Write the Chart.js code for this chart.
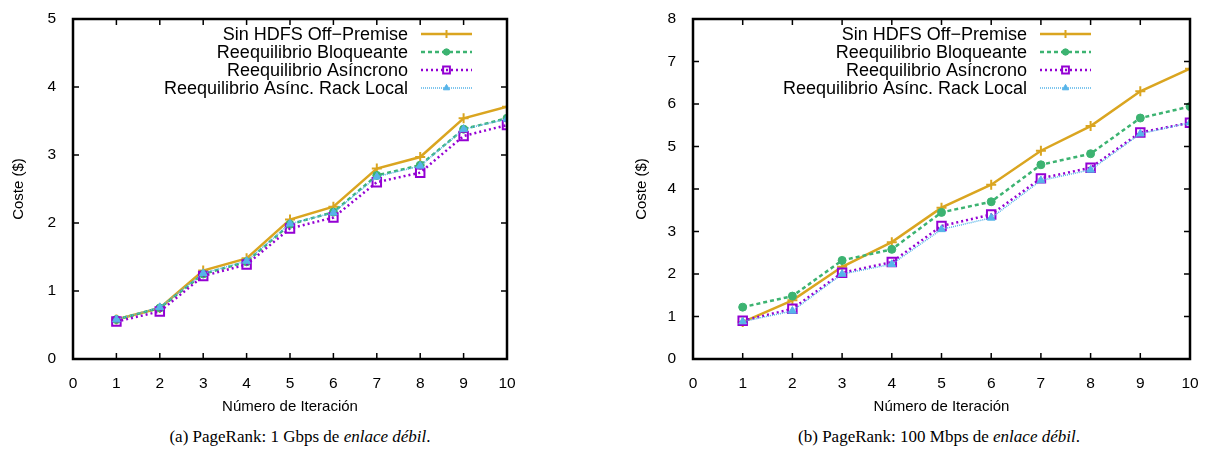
<!DOCTYPE html>
<html>
<head>
<meta charset="utf-8">
<script src="https://cdn.jsdelivr.net/npm/chart.js@4"></script>
<style>
  body { margin: 0; background: #fff; width: 1211px; height: 456px; position: relative; overflow: hidden; }
  .box { position: absolute; top: 0; height: 420px; }
  .cap { position: absolute; top: 427px; font-family: "Liberation Serif", serif; font-size: 17px; color: #000; text-align: center; }
</style>
</head>
<body>
<div class="box" style="left:0;width:600px"><canvas id="chartA"></canvas></div>
<div class="box" style="left:600px;width:611px"><canvas id="chartB"></canvas></div>
<div class="cap" style="left:0;width:600px">(a) PageRank: 1 Gbps de <i>enlace débil</i>.</div>
<div class="cap" style="left:639px;width:600px">(b) PageRank: 100 Mbps de <i>enlace débil</i>.</div>
<script>
const iteraciones = [1, 2, 3, 4, 5, 6, 7, 8, 9, 10];
const nombres = ['Sin HDFS Off\u2212Premise', 'Reequilibrio Bloqueante', 'Reequilibrio Asíncrono', 'Reequilibrio Asínc. Rack Local'];

// (a) 1 Gbps
const sinHdfsA = [0.58, 0.75, 1.30, 1.48, 2.05, 2.24, 2.80, 2.97, 3.54, 3.71];
const bloqueanteA = [0.58, 0.75, 1.25, 1.43, 1.98, 2.16, 2.70, 2.85, 3.38, 3.54];
const asincronoA = [0.55, 0.70, 1.22, 1.39, 1.92, 2.08, 2.60, 2.74, 3.28, 3.44];
const rackLocalA = [0.58, 0.76, 1.26, 1.44, 1.99, 2.15, 2.68, 2.84, 3.38, 3.53];

// (b) 100 Mbps
const sinHdfsB = [0.87, 1.38, 2.17, 2.75, 3.56, 4.10, 4.90, 5.48, 6.30, 6.83];
const bloqueanteB = [1.22, 1.48, 2.32, 2.58, 3.45, 3.70, 4.57, 4.83, 5.67, 5.94];
const asincronoB = [0.90, 1.18, 2.03, 2.28, 3.13, 3.40, 4.25, 4.50, 5.33, 5.56];
const rackLocalB = [0.88, 1.13, 2.00, 2.23, 3.05, 3.32, 4.20, 4.45, 5.30, 5.56];

const estilos = [
  { color: '#DAA520', dash: [], width: 2.5, point: 'cross', radius: 5, pw: 2 },
  { color: '#3CB371', dash: [4, 3], width: 2.5, point: 'circle', radius: 4, pw: 1 },
  { color: '#9400D3', dash: [2, 3], width: 2.5, point: 'rect', radius: 6, pw: 2 },
  { color: '#56B4E9', dash: [1, 1], width: 1.5, point: 'triangle', radius: 4.5, pw: 1 }
];

const fuente = '"Liberation Sans", Arial, sans-serif';

function puntos(vals) {
  return iteraciones.map((x, i) => ({ x: x, y: vals[i] }));
}

function datasets(series) {
  return series.map((vals, i) => {
    const e = estilos[i];
    const filled = e.point === 'circle' || e.point === 'triangle';
    return {
      label: nombres[i],
      data: puntos(vals),
      borderColor: e.color,
      backgroundColor: filled ? e.color : 'rgba(0,0,0,0)',
      borderWidth: e.width,
      borderDash: e.dash,
      pointStyle: e.point,
      pointRadius: e.radius,
      pointBorderWidth: e.pw,
      pointBorderColor: e.color,
      pointBackgroundColor: filled ? e.color : 'rgba(0,0,0,0)',
      tension: 0,
      order: 3 - i
    };
  });
}

const marco = {
  id: 'marco',
  afterDraw(chart) {
    const { ctx, chartArea: a, scales } = chart;
    ctx.save();
    ctx.strokeStyle = '#000';
    ctx.lineWidth = 1.5;
    const t = 6;
    ctx.beginPath();
    scales.x.ticks.forEach(tk => {
      const px = scales.x.getPixelForValue(tk.value);
      ctx.moveTo(px, a.bottom); ctx.lineTo(px, a.bottom - t);
      ctx.moveTo(px, a.top); ctx.lineTo(px, a.top + t);
    });
    scales.y.ticks.forEach(tk => {
      const py = scales.y.getPixelForValue(tk.value);
      ctx.moveTo(a.left, py); ctx.lineTo(a.left + t, py);
      ctx.moveTo(a.right, py); ctx.lineTo(a.right - t, py);
    });
    ctx.stroke();
    ctx.lineWidth = 2.5;
    ctx.strokeRect(a.left, a.top, a.right - a.left, a.bottom - a.top);

    // leyenda
    const dsets = chart.data.datasets;
    const lx1 = a.right - chart.options.plugins.leyenda.offset;
    const lx2 = lx1 + 51;
    ctx.font = '18px ' + fuente;
    ctx.textAlign = 'right';
    ctx.textBaseline = 'middle';
    dsets.forEach((d, i) => {
      const y = a.top + 15 + i * 18;
      ctx.fillStyle = '#000';
      ctx.fillText(d.label, lx1 - 13, y + 1);
      ctx.strokeStyle = d.borderColor;
      ctx.lineWidth = d.borderWidth;
      ctx.setLineDash(d.borderDash);
      ctx.beginPath(); ctx.moveTo(lx1, y); ctx.lineTo(lx2, y); ctx.stroke();
      ctx.setLineDash([]);
      const mx = (lx1 + lx2) / 2;
      ctx.fillStyle = d.pointBackgroundColor;
      ctx.strokeStyle = d.pointBorderColor;
      ctx.lineWidth = d.pointBorderWidth;
      Chart.helpers.drawPoint(ctx, {
        pointStyle: d.pointStyle, radius: d.pointRadius * 0.8, borderWidth: d.pointBorderWidth
      }, mx, y);
    });
    ctx.restore();
  }
};

function crear(id, series, ymax, yWidth, padRight, legendOffset, titlePad) {
  new Chart(document.getElementById(id), {
    type: 'line',
    data: { datasets: datasets(series) },
    plugins: [marco],
    options: {
      responsive: true,
      maintainAspectRatio: false,
      animation: false,
      layout: { padding: { top: 19, right: padRight, left: 0, bottom: 0 } },
      plugins: {
        legend: { display: false },
        tooltip: { enabled: false },
        leyenda: { offset: legendOffset }
      },
      scales: {
        x: {
          type: 'linear', min: 0, max: 10,
          ticks: { stepSize: 1, color: '#000', padding: 7, font: { family: fuente, size: 15.5 } },
          grid: { display: false },
          border: { display: false },
          title: { display: true, text: 'Número de Iteración', color: '#000', padding: { top: 8 }, font: { family: fuente, size: 15 } },
          afterFit(s) { s.height = 61; }
        },
        y: {
          type: 'linear', min: 0, max: ymax,
          ticks: { stepSize: 1, color: '#000', padding: 9, font: { family: fuente, size: 15.5 } },
          grid: { display: false },
          border: { display: false },
          title: { display: true, text: 'Coste ($)', color: '#000', padding: { top: titlePad, bottom: 0 }, font: { family: fuente, size: 15 } },
          afterFit(s) { s.width = yWidth; }
        }
      }
    }
  });
}

crear('chartA', [sinHdfsA, bloqueanteA, asincronoA, rackLocalA], 5, 73, 93, 86, 10);
crear('chartB', [sinHdfsB, bloqueanteB, asincronoB, rackLocalB], 8, 93, 21, 150, 33);
</script>
</body>
</html>
